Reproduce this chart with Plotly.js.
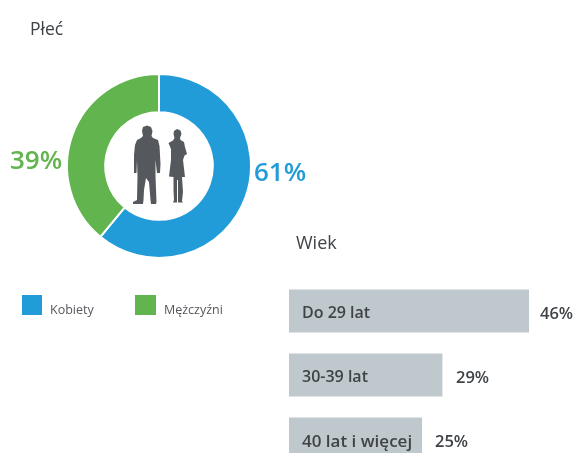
<!DOCTYPE html>
<html><head><meta charset="utf-8">
<script src="https://cdn.plot.ly/plotly-3.0.1.min.js"></script>
<style>html,body{margin:0;padding:0;background:#fff;overflow:hidden}#c{width:576px;height:453px;filter:blur(0.4px)}</style>
</head><body><div id="c"></div>
<script>
const genderLabels = ["Kobiety", "Mężczyźni"];
const genderValues = [61, 39];
const genderColors = ["#219cd8", "#62b44e"];
const ageLabels = ["Do 29 lat", "30-39 lat", "40 lat i więcej"];
const ageValues = [46, 29, 25];
const ageBarLengths = [46, 29.4, 25.5];
const W = 576, H = 453;
const FONT = "Open Sans, sans-serif";
const px = x => x / W, py = y => 1 - y / H;
function path(pts) { return pts.map((p, i) => (i ? "L" : "M") + px(p[0]).toFixed(5) + "," + py(p[1]).toFixed(5)).join(" ") + " Z"; }
const man = [[143,127],[147,125.5],[151,127],[152.5,131],[151.5,136],[153,138],[158,140],[159.5,146],[160.5,164],[160,173],[157,173],[155.5,160],[155.5,176],[156.5,202],[156,204],[151,204],[150.5,200],[149,182],[146,178],[144,190],[143.5,200],[143,204],[133,204],[133,202],[137,200],[137.5,176],[137,160],[136.5,173],[134,173],[134,155],[135,145],[137,140],[141,138],[143,136],[142,131]];
const woman = [[174,131],[177,129],[180.5,130.5],[181.5,134],[180,138],[180.5,140],[184,142],[185,147],[187,154],[184.5,155.5],[183,160],[185,177],[182,177],[183,192],[182,201],[183,202.5],[178,202.5],[178,180],[177,180],[177,202.5],[173,202.5],[174,200],[173.5,190],[173.5,177],[169,176.5],[171,160],[171,149],[168.5,143],[173,140.5],[174.5,138],[173.5,134]];
const silhouette = "#55585c";
const ann = (text, x, y, size, color, weight) => ({xref:"paper",yref:"paper",x:px(x),y:py(y),text,showarrow:false,xanchor:"left",yanchor:"middle",font:{family:FONT,size,color,weight:weight||400}});
const data = [
 {type:"pie",labels:genderLabels,values:genderValues,sort:false,direction:"clockwise",rotation:0,hole:0.585,
  textinfo:"none",showlegend:false,marker:{colors:genderColors,line:{color:"#fff",width:2}},
  domain:{x:[px(67),px(251)],y:[py(258),py(74)]}},
 {type:"bar",orientation:"h",x:ageBarLengths,y:ageLabels,marker:{color:"#bfc8cd"},showlegend:false,xaxis:"x",yaxis:"y"}
];
const annotations = [
 ann("Płeć",28,28,17.5,"#3f4347"),
 ann("Wiek",294,242,18,"#3f4347"),
 ann(genderValues[0]+"%",252,171,26,genderColors[0],600),
 ann(genderValues[1]+"%",8,159,26,genderColors[1],600),
 ann(genderLabels[0],48,309,12.5,"#55585c"),
 ann(genderLabels[1],162,309,12.5,"#55585c")
];
const pctShift = [9,12,11];
ageLabels.forEach((c,i)=>{
 annotations.push({xref:"x",yref:"y",x:0,y:c,xshift:11,yshift:-1,xanchor:"left",showarrow:false,text:c,font:{family:FONT,size:i===2?17:16,color:"#3f4347",weight:600}});
 annotations.push({xref:"x",yref:"y",x:ageBarLengths[i],y:c,xshift:pctShift[i],yshift:-1,xanchor:"left",showarrow:false,text:ageValues[i]+"%",font:{family:FONT,size:16.5,color:"#3f4347",weight:600}});
});
const shapes = [
 {type:"rect",xref:"paper",yref:"paper",x0:px(22),x1:px(42),y0:py(315),y1:py(295),fillcolor:genderColors[0],line:{width:0}},
 {type:"rect",xref:"paper",yref:"paper",x0:px(135),x1:px(156),y0:py(315),y1:py(295),fillcolor:genderColors[1],line:{width:0}},
 {type:"path",xref:"paper",yref:"paper",path:path(man),fillcolor:silhouette,line:{width:0}},
 {type:"path",xref:"paper",yref:"paper",path:path(woman),fillcolor:silhouette,line:{width:0}}
];
const layout = {
 width:W,height:H,margin:{l:0,r:0,t:0,b:0},paper_bgcolor:"#fff",plot_bgcolor:"rgba(0,0,0,0)",
 font:{family:FONT},bargap:0.33,
 xaxis:{domain:[px(289),1],range:[0,55],visible:false,fixedrange:true},
 yaxis:{domain:[0,py(279)],type:"category",categoryorder:"array",categoryarray:ageLabels,range:[2.21875,-0.5],visible:false,fixedrange:true},
 annotations,shapes
};
Plotly.newPlot("c",data,layout,{displayModeBar:false,staticPlot:true});
</script></body></html>
